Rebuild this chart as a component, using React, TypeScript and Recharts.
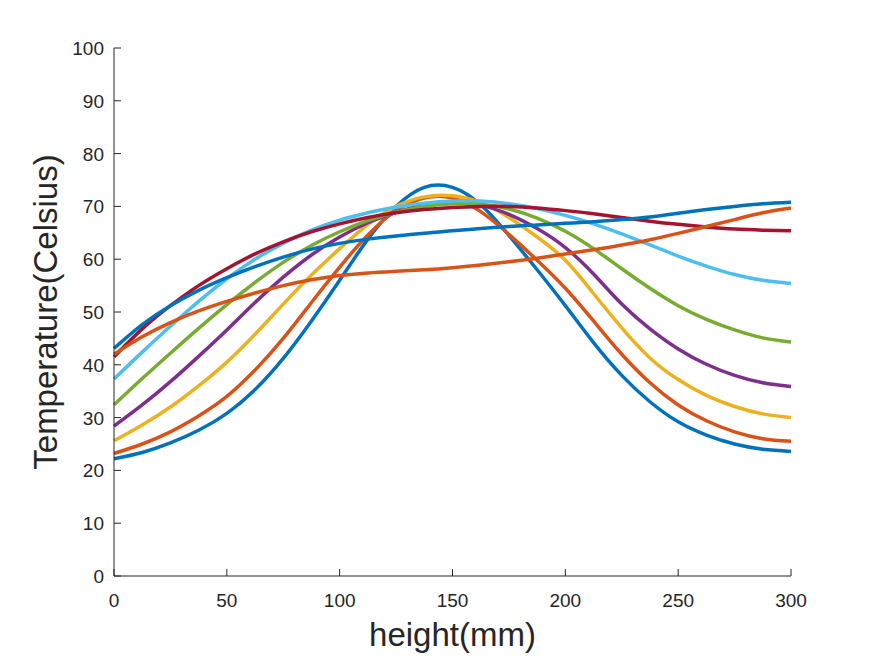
import { LineChart, Line, XAxis, YAxis } from "recharts";

// sample positions along the height axis (mm), every 12.5 mm
const heights = [
  0, 12.5, 25, 37.5, 50, 62.5, 75, 87.5, 100, 112.5, 125, 137.5, 150, 162.5, 175, 187.5, 200, 212.5, 225, 237.5, 250,
  262.5, 275, 287.5, 300,
];

// temperature curves (Celsius), in MATLAB's default colour order
const curve1 = [22.2, 23.4, 25.2, 27.6, 30.8, 35.3, 41.2, 48.3, 56.0, 63.8, 70.0, 73.6, 73.6, 70.3, 64.5, 58.0, 51.2, 44.2, 38.0, 33.0, 29.2, 26.7, 25.0, 24.0, 23.6];
const curve2 = [23.2, 25.0, 27.3, 30.3, 34.0, 39.0, 45.0, 51.8, 58.5, 64.6, 69.2, 71.6, 71.6, 69.0, 64.7, 59.8, 54.5, 48.3, 42.0, 36.6, 32.4, 29.4, 27.3, 26.0, 25.5];
const curve3 = [25.6, 28.6, 32.0, 36.0, 40.5, 45.8, 51.5, 57.0, 62.0, 66.6, 70.0, 71.8, 72.0, 70.7, 67.9, 64.2, 59.8, 53.5, 47.0, 41.3, 37.2, 34.2, 32.1, 30.7, 30.0];
const curve4 = [28.4, 32.4, 36.8, 41.6, 46.6, 51.8, 56.6, 60.8, 64.2, 66.9, 68.9, 70.2, 70.7, 70.2, 68.5, 65.8, 62.2, 57.2, 51.5, 46.8, 43.0, 40.1, 38.0, 36.6, 35.9];
const curve5 = [32.4, 37.4, 42.2, 46.9, 51.4, 55.6, 59.4, 62.6, 65.2, 67.3, 68.9, 70.0, 70.5, 70.4, 69.5, 67.8, 65.3, 62.0, 58.2, 54.5, 51.2, 48.6, 46.6, 45.1, 44.3];
const curve6 = [37.3, 42.4, 47.3, 52.0, 56.3, 60.0, 63.0, 65.5, 67.4, 68.8, 69.9, 70.6, 71.0, 71.0, 70.5, 69.6, 68.3, 66.7, 64.8, 62.7, 60.6, 58.7, 57.1, 56.0, 55.4];
const curve7 = [41.5, 46.8, 51.2, 55.0, 58.2, 61.0, 63.3, 65.2, 66.7, 67.9, 68.8, 69.4, 69.8, 70.0, 70.0, 69.7, 69.2, 68.6, 67.9, 67.2, 66.6, 66.1, 65.7, 65.5, 65.4];
const curve8 = [43.1, 47.6, 51.2, 54.1, 56.5, 58.6, 60.4, 61.9, 63.0, 63.8, 64.4, 64.9, 65.4, 65.8, 66.2, 66.5, 66.8, 67.1, 67.5, 68.0, 68.7, 69.4, 70.0, 70.5, 70.8];
const curve9 = [42.0, 45.3, 48.0, 50.2, 52.0, 53.6, 55.0, 56.1, 56.9, 57.4, 57.7, 58.0, 58.4, 58.9, 59.5, 60.2, 61.0, 61.8, 62.7, 63.7, 64.9, 66.2, 67.5, 68.8, 69.7];

const xTicks = [0, 50, 100, 150, 200, 250, 300];
const yTicks = [0, 10, 20, 30, 40, 50, 60, 70, 80, 90, 100];

const curves = [curve1, curve2, curve3, curve4, curve5, curve6, curve7, curve8, curve9];
const colors = ["#0072BD", "#D95319", "#EDB120", "#7E2F8E", "#77AC30", "#4DBEEE", "#A2142F", "#0072BD", "#D95319"];

const data = heights.map((h, i) => {
  const row: Record<string, number> = { h };
  curves.forEach((c, k) => (row["t" + k] = c[i]));
  return row;
});

const FONT = "'Liberation Sans', Arial, sans-serif";
const INK = "#262626";

function XTick(props: any) {
  const { x, y, payload } = props;
  return (
    <g>
      <line x1={x} y1={y} x2={x} y2={y - 7} stroke={INK} strokeWidth={1} />
      <text x={x} y={y + 31} textAnchor="middle" fill={INK} fontSize={19} fontFamily={FONT}>
        {payload.value}
      </text>
    </g>
  );
}

function YTick(props: any) {
  const { x, y, payload } = props;
  return (
    <g>
      <line x1={x} y1={y} x2={x + 7} y2={y} stroke={INK} strokeWidth={1} />
      <text x={x - 10} y={y + 7} textAnchor="end" fill={INK} fontSize={19} fontFamily={FONT}>
        {payload.value}
      </text>
    </g>
  );
}

export default function App() {
  return (
    <div style={{ position: "absolute", left: 0, top: 0, width: 875, height: 656, background: "#fff" }}>
      <LineChart width={875} height={656} data={data} margin={{ top: 48, right: 84, left: 54, bottom: 20 }}>
        <XAxis
          dataKey="h"
          type="number"
          domain={[0, 300]}
          ticks={xTicks}
          tickSize={0}
          tickMargin={0}
          tick={<XTick />}
          stroke={INK}
          height={60}
          label={{
            content: (p: any) => {
              const vb = p.viewBox;
              return (
                <text x={vb.x + vb.width / 2} y={646} textAnchor="middle" fill={INK} fontSize={33} fontFamily={FONT}>
                  height(mm)
                </text>
              );
            },
          }}
        />
        <YAxis
          type="number"
          domain={[0, 100]}
          ticks={yTicks}
          tickSize={0}
          tickMargin={0}
          tick={<YTick />}
          stroke={INK}
          width={60}
          label={{
            content: (p: any) => {
              const vb = p.viewBox;
              const cy = vb.y + vb.height / 2;
              return (
                <text
                  x={57}
                  y={cy}
                  transform={`rotate(-90, 57, ${cy})`}
                  textAnchor="middle"
                  fill={INK}
                  fontSize={33}
                  fontFamily={FONT}
                >
                  Temperature(Celsius)
                </text>
              );
            },
          }}
        />
        {colors.map((c, k) => (
          <Line
            key={k}
            dataKey={"t" + k}
            stroke={c}
            strokeWidth={3.5}
            dot={false}
            type="natural"
            isAnimationActive={false}
          />
        ))}
      </LineChart>
    </div>
  );
}
